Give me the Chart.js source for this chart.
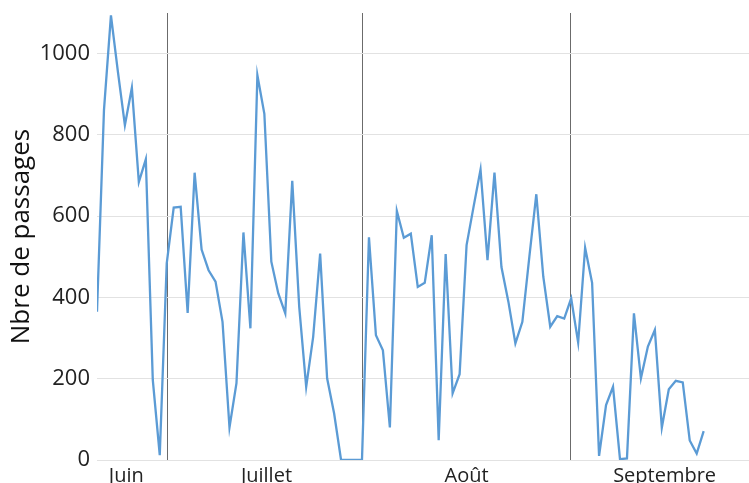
<!DOCTYPE html>
<html>
<head>
<meta charset="utf-8">
<script src="https://cdn.jsdelivr.net/npm/chart.js@4"></script>
<style>
  body { margin: 0; background: #fff; }
  #wrap { width: 749px; height: 483px; position: relative; }
</style>
</head>
<body>
<div id="wrap"><canvas id="passagesChart"></canvas></div>
<script>
// Nombre de passages par jour (lecture sur le graphique)
const passages = [
  365, 861, 1094, 955, 824, 916, 684, 740, 197, 12,
  484, 621, 623, 362, 707, 518, 467, 439, 340, 80,
  189, 560, 324, 947, 852, 488, 410, 361, 687, 377,
  180, 303, 508, 201, 115, 0, 0, 0, 0, 548,
  307, 270, 80, 613, 547, 557, 426, 436, 553, 49,
  507, 164, 211, 529, 623, 715, 492, 707, 475, 389,
  287, 340, 500, 654, 451, 328, 354, 348, 398, 289,
  522, 436, 10, 135, 180, 2, 4, 361, 201, 279,
  320, 80, 174, 195, 191, 48, 16, 71
];
// mois : nom, position du libellé (en jours), séparateurs
const monthNames = ['Juin', 'Juillet', 'Août', 'Septembre'];
const monthCenters = [4.2, 24.3, 53, 81.4];
const monthBounds = [10.1, 38.1, 67.9];
const yTicks = [0, 200, 400, 600, 800, 1000];

const points = passages.map((v, i) => ({ x: i, y: v }));

// ticks de l'axe x : libellés + séparateurs de mois
const xTicks = [];
monthCenters.forEach((c, i) => xTicks.push({ value: c, label: monthNames[i], sep: false }));
monthBounds.forEach(b => xTicks.push({ value: b, label: '', sep: true }));
xTicks.sort((a, b) => a.value - b.value);

const font = "'Open Sans', 'Noto Sans', sans-serif";

const ctx = document.getElementById('passagesChart');
new Chart(ctx, {
  type: 'line',
  data: {
    datasets: [{
      data: points,
      borderColor: '#5b9bd5',
      borderWidth: 2.3,
      pointRadius: 0,
      tension: 0,
      fill: false
    }]
  },
  options: {
    responsive: true,
    maintainAspectRatio: false,
    animation: false,
    layout: { padding: { top: 13, right: 0, left: 0, bottom: 0 } },
    plugins: { legend: { display: false }, tooltip: { enabled: false } },
    scales: {
      x: {
        type: 'linear',
        min: 0,
        max: 93.5,
        afterBuildTicks: (s) => { s.ticks = xTicks.map(t => ({ value: t.value })); },
        afterFit: (s) => { s.height = 23; s.paddingLeft = 0; s.paddingRight = 0; },
        ticks: {
          autoSkip: false,
          maxRotation: 0,
          padding: 4,
          color: '#222',
          font: { family: font, size: 20 },
          callback: (v) => { const t = xTicks.find(k => k.value === v); return t ? t.label : ''; }
        },
        grid: {
          drawTicks: false,
          color: (c) => { const t = xTicks.find(k => k.value === c.tick.value); return t && t.sep ? '#6b6b6b' : 'rgba(0,0,0,0)'; },
          lineWidth: 1
        },
        border: { display: false }
      },
      y: {
        min: 0,
        max: 1100,
        afterBuildTicks: (s) => { s.ticks = yTicks.map(v => ({ value: v })); },
        afterFit: (s) => { s.width = 97; s.paddingTop = 0; s.paddingBottom = 0; },
        ticks: {
          padding: 7,
          color: '#222',
          font: { family: font, size: 22 },
          callback: (v) => String(v)
        },
        grid: { drawTicks: false, color: '#e2e2e2', lineWidth: 1 },
        border: { display: false },
        title: {
          display: true,
          text: 'Nbre de passages',
          color: '#111',
          font: { family: font, size: 26 },
          padding: { top: 6, bottom: 0 }
        }
      }
    }
  }
});
</script>
</body>
</html>
